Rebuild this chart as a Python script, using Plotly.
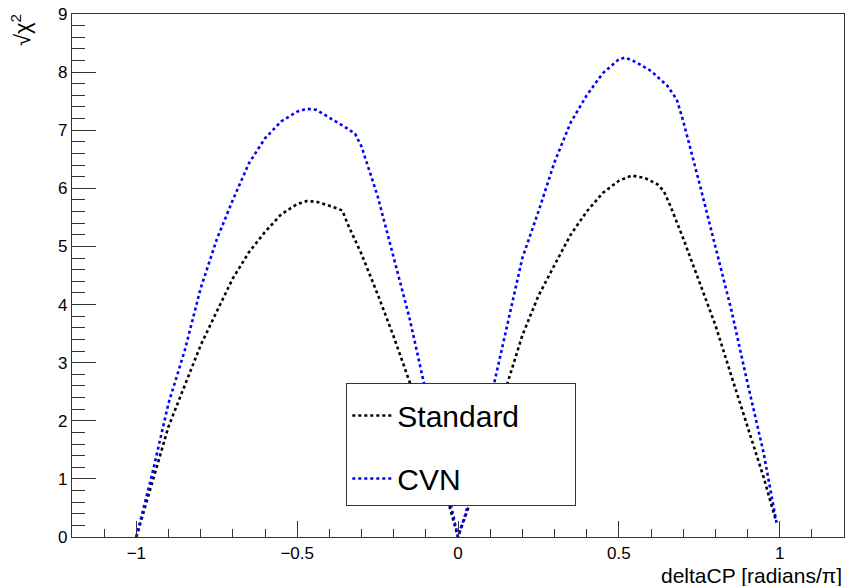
import plotly.graph_objects as go

# Standard (black)
std_x = [-1.0, -0.95, -0.9, -0.85, -0.8, -0.75, -0.7, -0.65, -0.6, -0.55, -0.5, -0.47, -0.44,
         -0.4, -0.36, -0.34, -0.3, -0.25, -0.2, -0.15, -0.1, -0.05, -0.02, 0.0,
         0.03, 0.05, 0.1, 0.15, 0.2, 0.25, 0.3, 0.35, 0.4, 0.45, 0.5, 0.54, 0.58, 0.62,
         0.64, 0.66, 0.7, 0.75, 0.8, 0.85, 0.9, 0.95, 0.99]
std_y = [0.0, 0.95, 1.9, 2.6, 3.3, 3.88, 4.45, 4.9, 5.25, 5.55, 5.73, 5.78, 5.77,
         5.7, 5.62, 5.35, 4.87, 4.18, 3.45, 2.66, 1.85, 1.0, 0.4, 0.0,
         0.47, 0.85, 1.75, 2.58, 3.47, 4.15, 4.68, 5.2, 5.6, 5.92, 6.13, 6.22, 6.18, 6.07,
         5.95, 5.7, 5.14, 4.4, 3.65, 2.77, 1.88, 1.03, 0.25]

# CVN (blue)
cvn_x = [-1.0, -0.95, -0.9, -0.85, -0.8, -0.75, -0.7, -0.65, -0.6, -0.55, -0.5, -0.47, -0.44,
         -0.4, -0.35, -0.32, -0.3, -0.25, -0.2, -0.15, -0.1, -0.05, -0.02, 0.0,
         0.024, 0.05, 0.1, 0.15, 0.2, 0.25, 0.3, 0.35, 0.4, 0.45, 0.5, 0.52, 0.55, 0.6,
         0.65, 0.68, 0.7, 0.75, 0.8, 0.85, 0.9, 0.95, 0.99]
cvn_y = [0.0, 1.1, 2.3, 3.2, 4.28, 5.12, 5.8, 6.43, 6.86, 7.15, 7.32, 7.37, 7.35,
         7.22, 7.05, 6.94, 6.72, 5.87, 4.8, 3.75, 2.5, 1.3, 0.5, 0.0,
         0.41, 0.98, 2.34, 3.55, 4.8, 5.6, 6.45, 7.13, 7.6, 7.98, 8.22, 8.25, 8.18, 8.02,
         7.77, 7.53, 7.16, 6.1, 5.0, 3.9, 2.65, 1.45, 0.25]

series_names = ["Standard", "CVN"]
series_colors = ["#000000", "#0000ff"]

FONT = "Liberation Sans, Arial, Helvetica, sans-serif"
PAD = "\u00a0" * 6  # right padding inside the legend box

fig = go.Figure()
for i, (xs, ys) in enumerate([(std_x, std_y), (cvn_x, cvn_y)]):
    fig.add_trace(go.Scatter(
        x=xs, y=ys, mode="lines", name=series_names[i] + PAD,
        legendgroup=series_names[i],
        line=dict(color=series_colors[i], width=2.6, dash="3px,3px"),
    ))

axis_common = dict(
    showgrid=False, zeroline=False, showline=True, linecolor="#333333", linewidth=1.3,
    mirror=True, ticks="inside", tickcolor="#333333", tickwidth=1.3,
    tickfont=dict(family=FONT, size=17, color="#000000"),
)

fig.update_xaxes(
    range=[-1.2, 1.2], tick0=0, dtick=0.5, ticklen=16,
    minor=dict(ticks="inside", dtick=0.1, tick0=0, ticklen=8, tickcolor="#333333", tickwidth=1.3),
    **axis_common,
)
fig.update_yaxes(
    range=[0, 9], tick0=0, dtick=1, ticklen=24,
    minor=dict(ticks="inside", dtick=0.2, tick0=0, ticklen=13, tickcolor="#333333", tickwidth=1.3),
    **axis_common,
)

fig.update_layout(
    width=846, height=586,
    margin=dict(l=72, r=2, t=14, b=49),
    plot_bgcolor="white", paper_bgcolor="white",
    font=dict(family=FONT, color="#000000"),
    legend=dict(
        x=(346 - 72) / 772, y=(537 - 383) / 523, xanchor="left", yanchor="top",
        bgcolor="white", bordercolor="#333333", borderwidth=1.3,
        font=dict(family=FONT, size=30, color="#000000"),
        traceorder="grouped", tracegroupgap=21, itemwidth=40,
        title=dict(text="&nbsp;", font=dict(size=4)),
    ),
    annotations=[
        dict(text="deltaCP [radians/π]", xref="paper", yref="paper", x=1.0, y=-38 / 523,
             xanchor="right", yanchor="middle", showarrow=False,
             font=dict(family=FONT, size=21, color="#000000")),
        dict(text="√χ<sup>2</sup>", xref="paper", yref="paper", x=-51 / 772, y=1.0 - 16 / 523,
             xanchor="center", yanchor="middle", showarrow=False, textangle=-90,
             font=dict(family=FONT, size=22, color="#000000")),
    ],
)

fig.write_html("out.html", config={"displayModeBar": False},
               post_script="document.body.style.margin='0';document.body.style.overflow='hidden';")
